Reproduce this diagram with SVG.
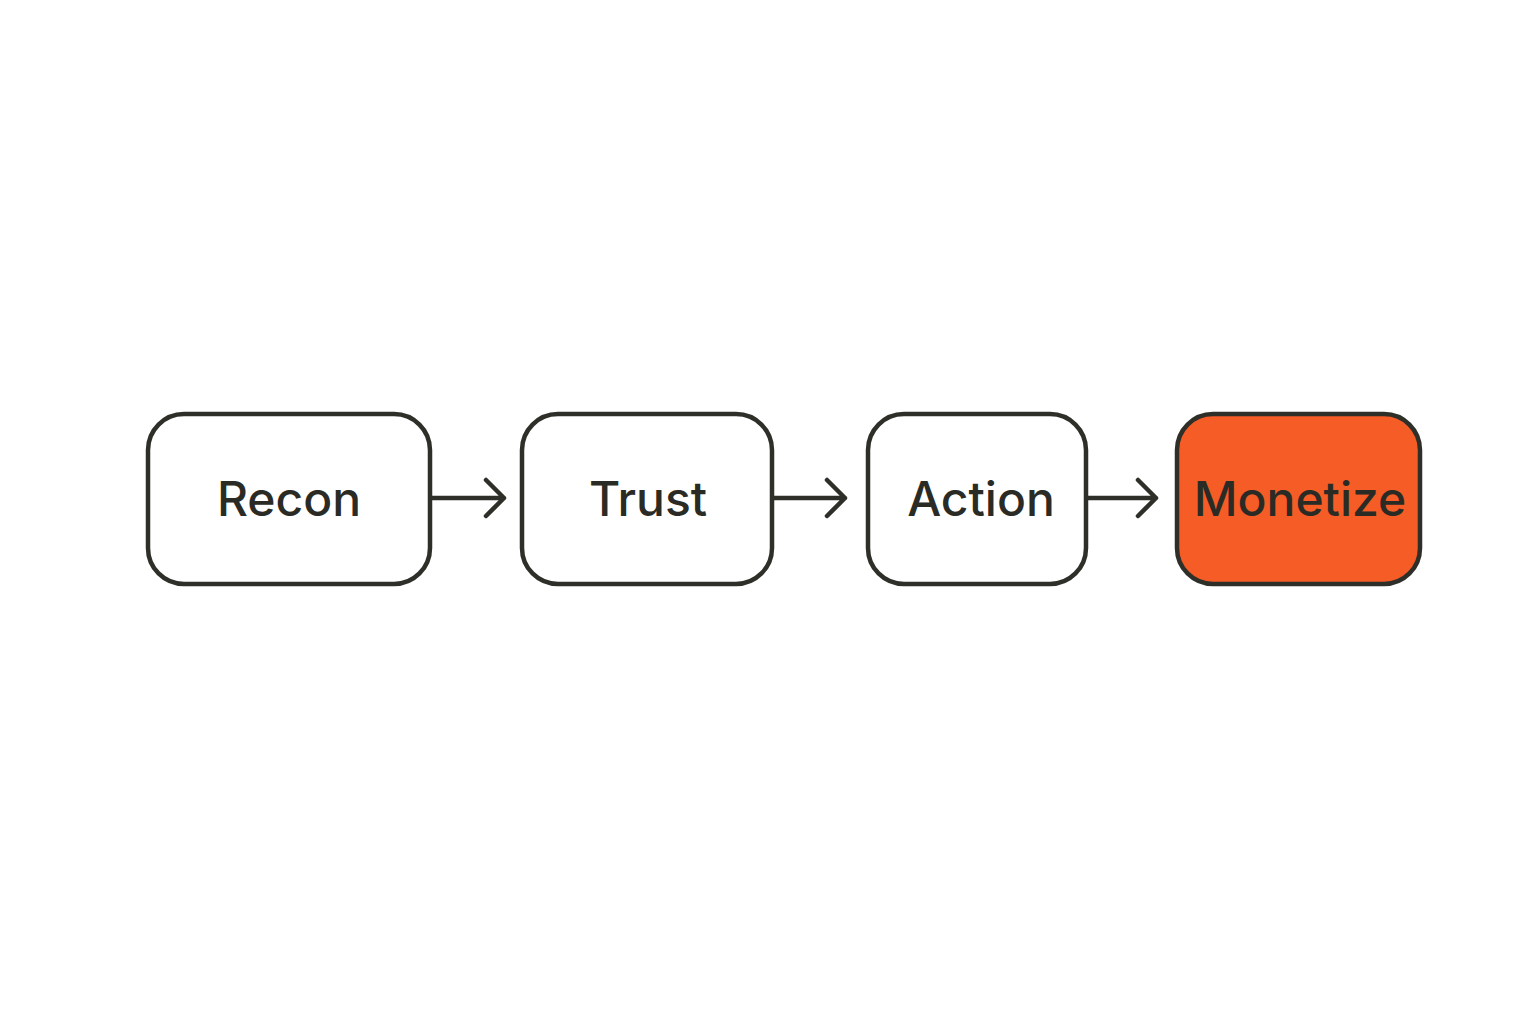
<svg xmlns="http://www.w3.org/2000/svg" width="1536" height="1024" viewBox="0 0 1536 1024">
<style>
.box{fill:#fff;stroke:#2f2f2a;stroke-width:4.5}
.hl{fill:#F55C26}
.lbl{font-family:"Inter","Liberation Sans",sans-serif;font-size:48px;font-weight:500;fill:#2b2b26;text-anchor:middle}
.con{fill:none;stroke:#2f2f2a;stroke-width:4.5;stroke-linecap:round;stroke-linejoin:round}
</style>
<rect width="1536" height="1024" fill="#fff"/>
<g id="recon"><rect class="box" x="148" y="414" width="282" height="170" rx="36"/><text class="lbl" x="289" y="516">Recon</text></g>
<g id="trust"><rect class="box" x="522" y="414" width="250" height="170" rx="36"/><text class="lbl" x="648" y="516">Trust</text></g>
<g id="action"><rect class="box" x="868" y="414" width="218" height="170" rx="36"/><text class="lbl" x="981" y="516">Action</text></g>
<g id="monetize"><rect class="box hl" x="1177" y="414" width="243" height="170" rx="36"/><text class="lbl" x="1300" y="516">Monetize</text></g>
<g id="connectors">
<path class="con" d="M432 498H504M486 480L504 498L486 516"/>
<path class="con" d="M774 498H845M827 480L845 498L827 516"/>
<path class="con" d="M1088 498H1156M1138 480L1156 498L1138 516"/>
</g>
</svg>
